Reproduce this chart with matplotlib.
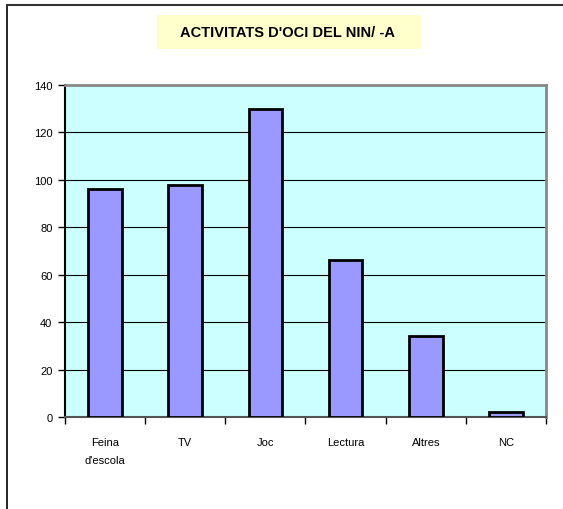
import matplotlib
matplotlib.use("Agg")
import matplotlib.pyplot as plt
from matplotlib.patches import Rectangle
from matplotlib.lines import Line2D

plt.rcParams['font.family'] = ['Liberation Sans', 'DejaVu Sans']

categories = ["Feina\nd'escola", "TV", "Joc", "Lectura", "Altres", "NC"]
values = [96, 98, 130, 66, 34, 2]
yticks = [0, 20, 40, 60, 80, 100, 120, 140]
title = "ACTIVITATS D'OCI DEL NIN/ -A"

W, H = 563, 510
fig = plt.figure(figsize=(W / 100, H / 100), dpi=100)
ax = fig.add_axes([65/W, 1-418/H, 481/W, 332/H])
ax.set_facecolor('#CCFFFF')

x = list(range(len(categories)))
ax.bar(x, values, width=0.42, color='#9999FF', edgecolor='black', linewidth=2, zorder=3)

ax.set_ylim(0, 140)
ax.set_xlim(-0.5, len(categories) - 0.5)
ax.set_yticks(yticks)
ax.set_yticklabels([str(v) for v in yticks], fontsize=8)
ax.yaxis.grid(True, color='black', linewidth=0.8, zorder=1)
ax.set_axisbelow(True)

# category labels centred, ticks between categories
ax.set_xticks([i - 0.5 for i in range(len(categories) + 1)])
ax.set_xticklabels([])
ax.tick_params(axis='x', length=5, width=1, direction='out')
ax.tick_params(axis='y', length=5, width=1, direction='out', pad=4)
for i, c in enumerate(categories):
    ax.text(i, -8.5, c, ha='center', va='top', fontsize=8, linespacing=2.0)

ax.spines['left'].set_color('black')
ax.spines['left'].set_linewidth(1.5)
ax.spines['bottom'].set_color('#555555')
ax.spines['bottom'].set_linewidth(1.5)
ax.spines['top'].set_color('#888888')
ax.spines['top'].set_linewidth(2)
ax.spines['right'].set_color('#888888')
ax.spines['right'].set_linewidth(2)

# title in yellow box
fig.add_artist(Rectangle((157/W, 1-50/H), 264/W, 34/H, transform=fig.transFigure,
                         facecolor='#FFFFCC', edgecolor='none'))
fig.text(288/W, 1-33/H, title, ha='center', va='center', fontsize=10.5,
         fontweight='bold')

# outer chart border (only left/top visible)
fig.add_artist(Line2D([7/W, 7/W], [0, 1-6/H], color='black', linewidth=1.2))
fig.add_artist(Line2D([7/W, 1], [1-6/H, 1-6/H], color='#333333', linewidth=1.5))

fig.savefig('out.png', dpi=100)
